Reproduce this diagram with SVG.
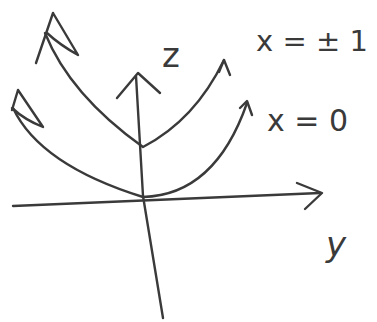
<svg xmlns="http://www.w3.org/2000/svg" width="377" height="322" viewBox="0 0 377 322">
<style>
.s{fill:none;stroke:#3a3a3a;stroke-width:2.4;stroke-linecap:round;stroke-linejoin:round}
.t{font-family:"DejaVu Sans",sans-serif;fill:#3a3a3a}
</style>
<rect width="377" height="322" fill="#fff"/>
<g id="axes">
<path class="s" d="M13,206 L320,193"/>
<path class="s" d="M297,183 L322,193 L305,209"/>
<path class="s" d="M163,318 L143,196 L136,76"/>
<path class="s" d="M117,98 L138,73 L160,93"/>
</g>
<g id="curve-x1">
<path class="s" d="M45,33 Q70,95 143,147 Q195,120 224,60"/>
<path class="s" d="M53,13 L36,63 M53,13 L78,55 Q60,45 47,33"/>
<path class="s" d="M219,72 L224,60 L230,75"/>
</g>
<g id="curve-x0">
<path class="s" d="M13,108 Q40,165 143,197 Q215,195 247,103"/>
<path class="s" d="M18,90 L12,110 M18,90 L43,127 Q25,120 12,108"/>
<path class="s" d="M240,108 L247,101 L252,115"/>
</g>
<g id="labels">
<text class="t" x="162" y="67" font-size="34">z</text>
<text class="t" x="256" y="51" font-size="29">x = ± 1</text>
<text class="t" x="267" y="131" font-size="30">x = 0</text>
<text class="t" x="326" y="256" font-size="34" font-style="italic">y</text>
</g>
</svg>
